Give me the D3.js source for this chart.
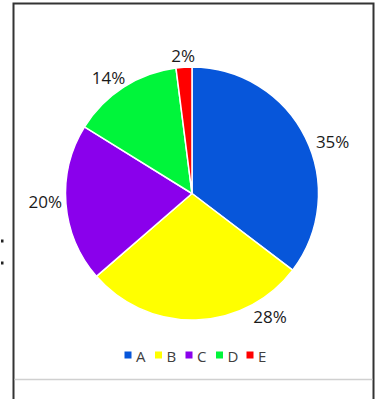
<!DOCTYPE html>
<html>
<head>
<meta charset="utf-8">
<script src="https://cdn.jsdelivr.net/npm/d3@7/dist/d3.min.js"></script>
<style>
  html, body { margin: 0; padding: 0; background: #fff; }
  svg { display: block; }
</style>
</head>
<body>
<svg id="chart" width="380" height="399"></svg>
<script>
// Share of each category, in percent
const categories = ["A", "B", "C", "D", "E"];
const shares = [35, 28, 20, 14, 2];
const sliceColors = ["#0756da", "#ffff00", "#8a00ec", "#00f53a", "#ff0000"];

// Label placement: angle nudge (degrees) from the slice middle, and distance from the centre
const labelNudge = [6, -30.5, 1.5, -3, 0];
const labelDist = [150, 146, 147, 143, 138];

const svg = d3.select("#chart");

// Outer frame
svg.append("rect")
  .attr("x", 13.5).attr("y", 3.5)
  .attr("width", 360).attr("height", 420)
  .attr("fill", "none").attr("stroke", "#333").attr("stroke-width", 2);

// Separator under the legend
svg.append("line")
  .attr("x1", 14.5).attr("x2", 372.5)
  .attr("y1", 379.5).attr("y2", 379.5)
  .attr("stroke", "#d0d0d0").attr("stroke-width", 1.5);

// Two small dots at the left margin
svg.selectAll("rect.dot").data([241, 263]).enter().append("rect")
  .attr("class", "dot")
  .attr("x", 1).attr("y", d => d - 1.5)
  .attr("width", 2.5).attr("height", 3)
  .attr("fill", "#222");

const cx = 192, cy = 193.5, R = 126.5;
const g = svg.append("g").attr("transform", `translate(${cx},${cy})`);

const data = categories.map((c, i) => ({ cat: c, value: shares[i], color: sliceColors[i], i }));

const pie = d3.pie().value(d => d.value).sort(null);
const arc = d3.arc().innerRadius(0).outerRadius(R);
const arcs = pie(data);

g.selectAll("path.slice").data(arcs).enter().append("path")
  .attr("class", "slice")
  .attr("d", arc)
  .attr("fill", d => d.data.color)
  .attr("stroke", "#fff")
  .attr("stroke-width", 1.5)
  .attr("stroke-linejoin", "round");

// Percent labels outside the slices
function labelAngle(d) {
  return (d.startAngle + d.endAngle) / 2 + labelNudge[d.data.i] * Math.PI / 180;
}
g.selectAll("text.lbl").data(arcs).enter().append("text")
  .attr("class", "lbl")
  .attr("x", d => Math.sin(labelAngle(d)) * labelDist[d.data.i])
  .attr("y", d => -Math.cos(labelAngle(d)) * labelDist[d.data.i])
  .attr("text-anchor", "middle")
  .attr("dominant-baseline", "central")
  .attr("font-family", "'Open Sans', sans-serif")
  .attr("font-size", 17)
  .attr("fill", "#1a1a1a")
  .text(d => d.data.value + "%");

// Legend
const legendX = d3.scalePoint().domain(categories).range([128, 250]);
const leg = svg.append("g").attr("transform", "translate(0,355)");
const item = leg.selectAll("g").data(data).enter().append("g")
  .attr("transform", d => `translate(${legendX(d.cat)},0)`);
item.append("rect")
  .attr("x", -3.5).attr("y", -3.5)
  .attr("width", 7).attr("height", 7)
  .attr("fill", d => d.color);
item.append("text")
  .attr("x", 8).attr("y", 0.5)
  .attr("dominant-baseline", "central")
  .attr("font-family", "'Open Sans', sans-serif")
  .attr("font-size", 15)
  .attr("fill", "#404040")
  .text(d => d.cat);
</script>
</body>
</html>
